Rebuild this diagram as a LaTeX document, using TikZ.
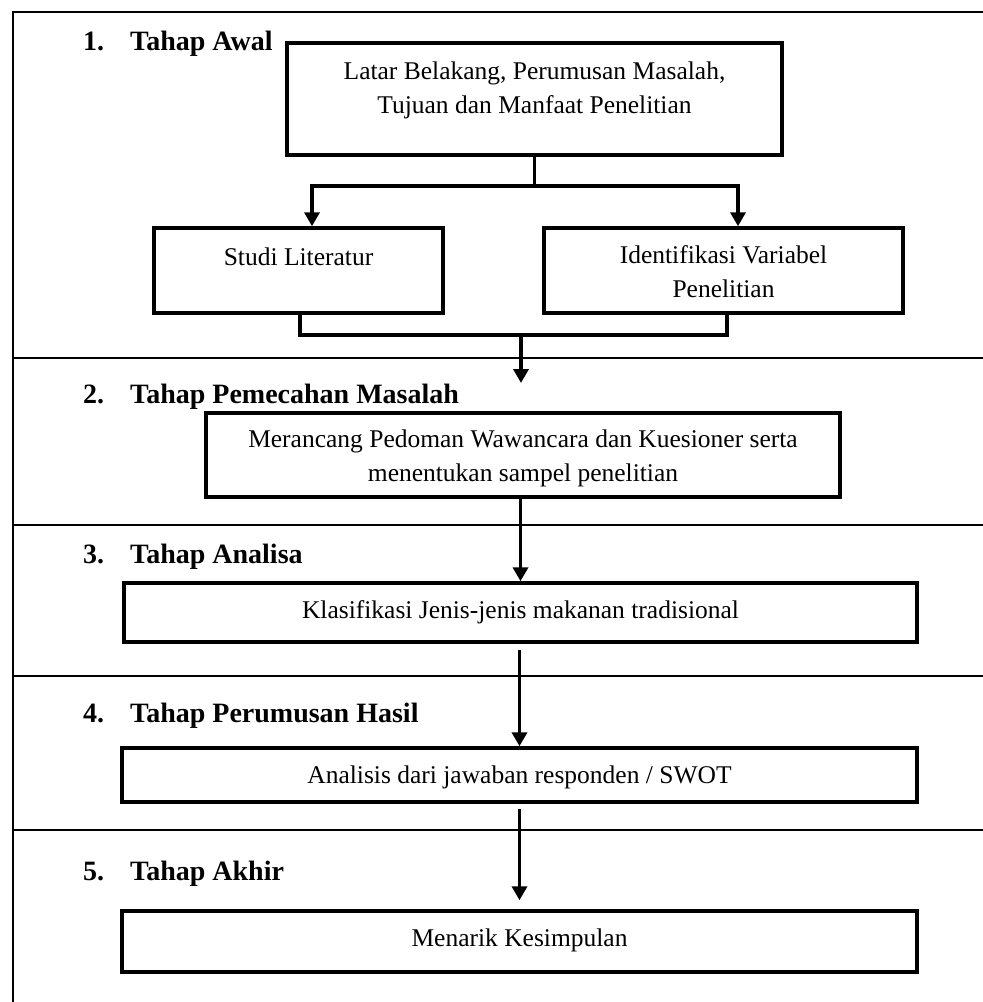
\documentclass[tikz,border=0pt]{standalone}
\usepackage{fontspec}
\setmainfont{Liberation Serif}
\usetikzlibrary{arrows.meta}
\begin{document}
\begin{tikzpicture}[x=1pt,y=-1pt,
  box/.style={draw, line width=3.5pt, inner sep=0pt},
  txt/.style={font=\fontsize{25.5}{34}\selectfont, align=center, inner sep=0pt},
  head/.style={font=\fontsize{28}{32}\selectfont\bfseries, anchor=base west, inner sep=0pt},
  conn/.style={line width=3.5pt},
  arr/.style={conn, -{Triangle[width=15pt,length=14pt]}},
  sep/.style={line width=2.5pt}]
\useasboundingbox (0,0) rectangle (983,1002);
% frame and stage separators
\draw[sep] (13,1002) -- (13,12) -- (983,12);
\draw[sep] (13,358) -- (983,358);
\draw[sep] (13,525) -- (983,525);
\draw[sep] (13,676) -- (983,676);
\draw[sep] (13,830) -- (983,830);
% stage headings
\node[head] (h1) at (83,50) {\makebox[47pt][l]{1.}Tahap Awal};
\node[head] (h2) at (83,403) {\makebox[47pt][l]{2.}Tahap Pemecahan Masalah};
\node[head] (h3) at (83,563) {\makebox[47pt][l]{3.}Tahap Analisa};
\node[head] (h4) at (83,722) {\makebox[47pt][l]{4.}Tahap Perumusan Hasil};
\node[head] (h5) at (83,880) {\makebox[47pt][l]{5.}Tahap Akhir};
% boxes
\node[box, minimum width=495pt, minimum height=112pt] (b1) at (534.5,99) {};
\node[box, minimum width=289pt, minimum height=85pt] (b2) at (298.5,270.5) {};
\node[box, minimum width=359pt, minimum height=85pt] (b3) at (723.5,270.5) {};
\node[box, minimum width=634pt, minimum height=84pt] (b4) at (523,455) {};
\node[box, minimum width=793pt, minimum height=59pt] (b5) at (520.5,612.5) {};
\node[box, minimum width=795pt, minimum height=54pt] (b6) at (519.5,775) {};
\node[box, minimum width=795pt, minimum height=61pt] (b7) at (519.5,941.5) {};
% box texts
\node[txt] (t1) at (534.5,90) {Latar Belakang, Perumusan Masalah,\\Tujuan dan Manfaat Penelitian};
\node[txt] (t2) at (298.5,257) {Studi Literatur};
\node[txt] (t3) at (723.5,272) {Identifikasi Variabel\\Penelitian};
\node[txt] (t4) at (523,458) {Merancang Pedoman Wawancara dan Kuesioner serta\\menentukan sampel penelitian};
\node[txt] (t5) at (520.5,612) {Klasifikasi Jenis-jenis makanan tradisional};
\node[txt] (t6) at (519.5,777) {Analisis dari jawaban responden / SWOT};
\node[txt] (t7) at (519.5,940) {Menarik Kesimpulan};
% connectors
\coordinate (br) at (0,186);
\draw[conn] (b1.south) -- (b1.south |- br);
\draw[arr] (b1.south |- br) -| ([xshift=13.5pt]b2.north);
\draw[arr] (b1.south |- br) -| ([xshift=14.5pt]b3.north);
\draw[conn] ([xshift=1.5pt]b2.south) -- ++(0,20) -| ([xshift=3.5pt]b3.south);
\coordinate (m) at (521,333);
\coordinate (t2end) at (521,383);
\draw[arr] (m) -- (t2end);
\draw[arr] (b5.north |- b4.south) -- (b5.north);
\draw[arr, shorten <=6pt] (b6.north |- b5.south) -- (b6.north);
\draw[arr, shorten <=5pt, shorten >=9pt] (b6.south) -- (b7.north);
\end{tikzpicture}
\end{document}
